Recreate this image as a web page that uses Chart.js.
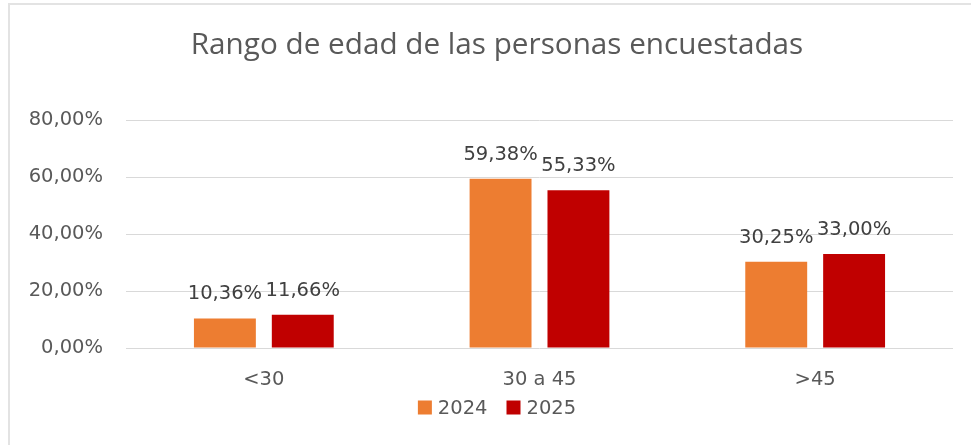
<!DOCTYPE html>
<html>
<head>
<meta charset="utf-8">
<script src="https://cdn.jsdelivr.net/npm/chart.js@4"></script>
<style>
  html, body { margin: 0; padding: 0; background: #fff; overflow: hidden; width: 971px; height: 445px; }
  #frame { position: absolute; left: 8px; top: 3px; width: 1000px; height: 500px; border-left: 2px solid #e3e3e3; border-top: 2px solid #e3e3e3; box-sizing: border-box; }
  #wrap { position: absolute; left: 8px; top: 3px; width: 978px; height: 442px; }
</style>
</head>
<body>
<div id="frame"></div>
<div id="wrap"><canvas id="c" width="978" height="442"></canvas></div>
<script>
const categories = ["<30", "30 a 45", ">45"];
const seriesNames = ["2024", "2025"];
const values2024 = [0.1036, 0.5938, 0.3025];
const values2025 = [0.1166, 0.5533, 0.3300];
const yTicks = [0, 0.2, 0.4, 0.6, 0.8];
const seriesColors = ['#ED7D31', '#C00000'];
const titleText = 'Rango de edad de las personas encuestadas';

const FONT = "'DejaVu Sans', sans-serif";
const TITLE_FONT = "'Open Sans', 'Liberation Sans', sans-serif";
const TXT = '#595959';

function fmtPct(v) {
  return (v * 100).toFixed(2).replace('.', ',') + '%';
}

const decorPlugin = {
  id: 'decor',
  afterDatasetsDraw(chart) {
    const ctx = chart.ctx;
    ctx.save();
    // bar value labels
    ctx.font = '19.5px ' + FONT;
    ctx.fillStyle = '#404040';
    ctx.textAlign = 'center';
    ctx.textBaseline = 'alphabetic';
    chart.data.datasets.forEach((ds, i) => {
      const meta = chart.getDatasetMeta(i);
      meta.data.forEach((bar, j) => {
        ctx.fillText(fmtPct(ds.data[j]), bar.x, bar.y - 19);
      });
    });
    // title
    const cx = 489;
    ctx.font = '29.7px ' + TITLE_FONT;
    ctx.fillStyle = TXT;
    ctx.fillText(titleText, cx, 51);
    // legend
    ctx.font = '19.5px ' + FONT;
    const box = 14, gapBT = 6, gapItems = 19;
    const widths = seriesNames.map(n => ctx.measureText(n).width);
    let total = 0;
    widths.forEach((w, i) => { total += box + gapBT + w + (i < widths.length - 1 ? gapItems : 0); });
    let x = cx - total / 2;
    ctx.textAlign = 'left';
    seriesNames.forEach((n, i) => {
      ctx.fillStyle = seriesColors[i];
      ctx.fillRect(x, 397.5, box, box);
      ctx.fillStyle = TXT;
      ctx.fillText(n, x + box + gapBT, 411);
      x += box + gapBT + widths[i] + gapItems;
    });
    ctx.restore();
  }
};

new Chart(document.getElementById('c'), {
  type: 'bar',
  data: {
    labels: categories,
    datasets: [
      { label: seriesNames[0], data: values2024, backgroundColor: seriesColors[0], borderWidth: 0 },
      { label: seriesNames[1], data: values2025, backgroundColor: seriesColors[1], borderWidth: 0 }
    ]
  },
  options: {
    responsive: false,
    animation: false,
    events: [],
    layout: { padding: { left: 0, right: 33, top: 117, bottom: 41.6 } },
    datasets: { bar: { categoryPercentage: 0.565, barPercentage: 0.795 } },
    plugins: {
      title: { display: false },
      legend: { display: false },
      tooltip: { enabled: false }
    },
    scales: {
      x: {
        grid: { display: false },
        border: { display: false },
        ticks: { color: TXT, font: { family: FONT, size: 19.5 }, padding: 12, autoSkip: false, maxRotation: 0 }
      },
      y: {
        min: 0, max: 0.8,
        afterBuildTicks(scale) { scale.ticks = yTicks.map(v => ({ value: v })); },
        afterFit(scale) { scale.width = 118; },
        grid: { color: '#d9d9d9', lineWidth: 1, drawTicks: false },
        border: { display: false },
        ticks: { color: TXT, font: { family: FONT, size: 19.5 }, padding: 23, callback: v => fmtPct(v) }
      }
    }
  },
  plugins: [decorPlugin]
});
</script>
</body>
</html>
